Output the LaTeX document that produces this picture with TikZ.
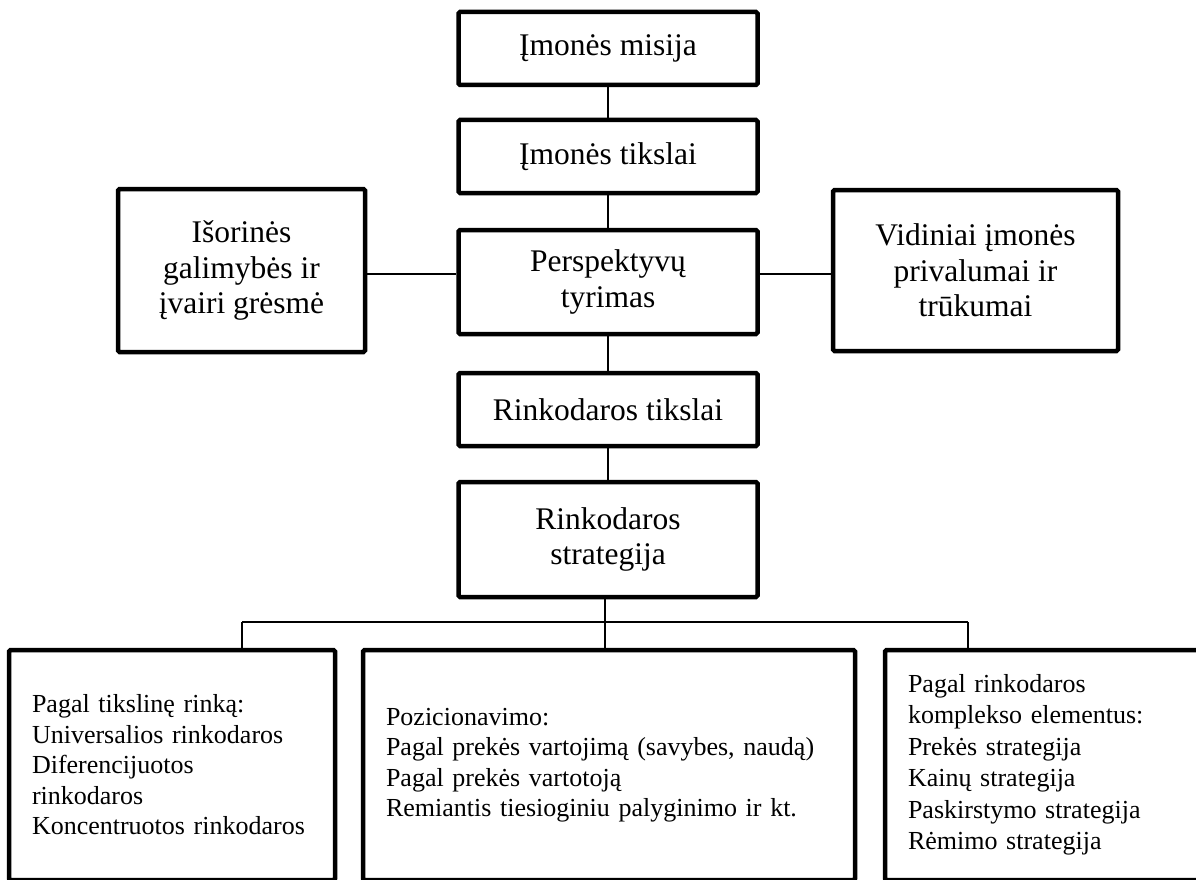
\documentclass[tikz,border=0pt]{standalone}
\usepackage{fontspec}
\setmainfont{Liberation Serif}
\begin{document}
\begin{tikzpicture}[x=1pt,y=-1pt,
  box/.style={draw, line width=4.5pt, rounded corners=1.5pt, align=center, inner sep=0pt,
    font=\fontsize{31.5}{35.5}\selectfont},
  lowbox/.style={draw, line width=4.5pt, rounded corners=1.5pt, align=left, inner xsep=23pt, inner ysep=0pt,
    minimum height=230pt, font=\fontsize{26}{30.5}\selectfont},
  link/.style={line width=1.8pt}]
\useasboundingbox (0,0) rectangle (1196,880);
\clip (0,0) rectangle (1196,880);
\node[box, minimum width=299pt, minimum height=73pt] (m) at (608,48.5) {Įmonės misija};
\node[box, minimum width=299pt, minimum height=73pt] (t) at (608,156.5) {Įmonės tikslai};
\node[box, minimum width=299pt, minimum height=104pt] (p) at (608,282) {Perspektyvų\\tyrimas};
\node[box, minimum width=247pt, minimum height=163pt] (L) at (241.5,270.5) {Išorinės\\galimybės ir\\įvairi grėsmė};
\node[box, minimum width=285pt, minimum height=161pt] (R) at (975.5,270.5) {Vidiniai įmonės\\privalumai ir\\trūkumai};
\node[box, minimum width=299pt, minimum height=73pt] (rt) at (608,409.5) {Rinkodaros tikslai};
\node[box, minimum width=299pt, minimum height=115pt] (rs) at (608,539.5) {Rinkodaros\\strategija};
\node[lowbox, text width=280pt] (B1) at (172,765) {Pagal tikslinę rinką:\\Universalios rinkodaros\\Diferencijuotos\\rinkodaros\\Koncentruotos rinkodaros};
\node[lowbox, text width=446pt] (B2) at (609,765) {Pozicionavimo:\\Pagal prekės vartojimą (savybes, naudą)\\Pagal prekės vartotoją\\Remiantis tiesioginiu palyginimo ir kt.};
\node[lowbox, text width=284pt, font=\fontsize{26}{31.5}\selectfont] (B3) at (1050,765) {Pagal rinkodaros\\komplekso elementus:\\Prekės strategija\\Kainų strategija\\Paskirstymo strategija\\Rėmimo strategija};
\coordinate (bc) at (605,622);
\coordinate (bl) at (242,622);
\coordinate (br) at (968,622);
\draw[link] (m.south) -- (t.north);
\draw[link] (t.south) -- (p.north);
\draw[link] (p.south) -- (rt.north);
\draw[link] (rt.south) -- (rs.north);
\draw[link] ([yshift=-3.5pt]L.east) -- ([yshift=-3.5pt]L.east -| p.west);
\draw[link] ([yshift=-3.5pt]R.west) -- ([yshift=-3.5pt]R.west -| p.east);
\draw[link] (rs.south -| bc) -- (bc);
\draw[link] (bl) -- (br);
\draw[link] (bl) -- (bl |- B1.north);
\draw[link] (bc) -- (bc |- B2.north);
\draw[link] (br) -- (br |- B3.north);
\end{tikzpicture}
\end{document}
